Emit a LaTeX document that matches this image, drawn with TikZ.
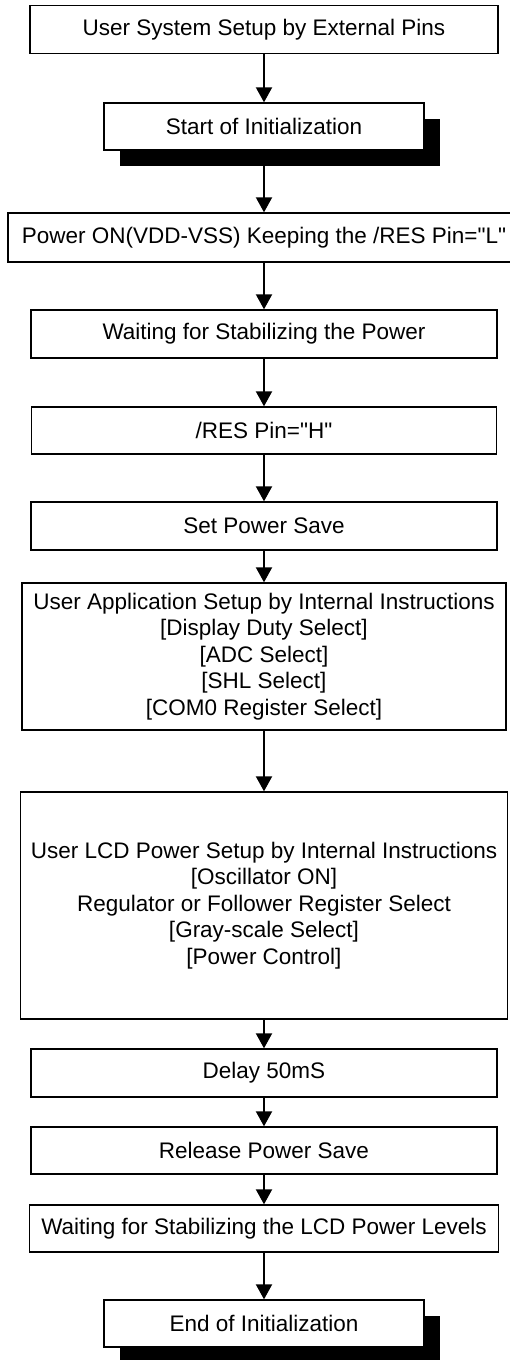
\documentclass[tikz,border=0pt]{standalone}
\usepackage{fontspec}
\setmainfont{Liberation Sans}
\usetikzlibrary{arrows.meta,shadows}

\begin{document}
\begin{tikzpicture}[
  stepbox/.style={rectangle, draw, line width=0.75pt, fill=white, minimum height=0.96cm, align=center, inner sep=0pt, font=\fontsize{12.8}{15}\selectfont},
  shadowed/.style={general shadow={fill=black, shadow xshift=0.32cm, shadow yshift=-0.32cm}},
  flow/.style={-{Triangle[length=3mm, width=3.2mm]}, line width=1.1pt},
]
  \useasboundingbox (0,0) rectangle (10.18,-27.2);

  \node[stepbox, minimum width=9.36cm] (extpins) at (5.28,-0.59) {User System Setup by External Pins};
  \node[stepbox, shadowed, minimum width=6.40cm, minimum height=0.94cm] (start) at (5.28,-2.53) {Start of Initialization};
  \node[stepbox, minimum width=10.24cm, minimum height=0.98cm] (poweron) at (5.28,-4.75) {Power ON(VDD-VSS) Keeping the /RES Pin=\textquotedbl L\textquotedbl};
  \node[stepbox, minimum width=9.32cm] (waitpwr) at (5.28,-6.68) {Waiting for Stabilizing the Power};
  \node[stepbox, minimum width=9.30cm, minimum height=0.94cm] (reshigh) at (5.28,-8.61) {/RES Pin=\textquotedbl H\textquotedbl};
  \node[stepbox, minimum width=9.32cm] (setsave) at (5.28,-10.52) {Set Power Save};
  \node[stepbox, minimum width=9.68cm, minimum height=2.94cm] (appsetup) at (5.28,-13.13)
    {User Application Setup by Internal Instructions\\{[}Display Duty Select]\\{[}ADC Select]\\{[}SHL Select]\\{[}COM0 Register Select]};
  \node[stepbox, minimum width=9.74cm, minimum height=4.54cm] (lcdsetup) at (5.28,-18.11)
    {User LCD Power Setup by Internal Instructions\\{[}Oscillator ON]\\Regulator or Follower Register Select\\{[}Gray-scale Select]\\{[}Power Control]};
  \node[stepbox, minimum width=9.32cm] (delay) at (5.28,-21.46) {Delay 50mS};
  \node[stepbox, minimum width=9.32cm, minimum height=0.94cm] (relsave) at (5.28,-23.01) {Release Power Save};
  \node[stepbox, minimum width=9.38cm, minimum height=0.94cm] (waitlcd) at (5.28,-24.57) {Waiting for Stabilizing the LCD Power Levels};
  \node[stepbox, shadowed, minimum width=6.40cm, minimum height=0.94cm] (finish) at (5.28,-26.47) {End of Initialization};

  \draw[flow] (extpins) -- (start);
  \draw[flow] (start) -- (poweron);
  \draw[flow] (poweron) -- (waitpwr);
  \draw[flow] (waitpwr) -- (reshigh);
  \draw[flow] (reshigh) -- (setsave);
  \draw[flow] (setsave) -- (appsetup);
  \draw[flow] (appsetup) -- (lcdsetup);
  \draw[flow] (lcdsetup) -- (delay);
  \draw[flow] (delay) -- (relsave);
  \draw[flow] (relsave) -- (waitlcd);
  \draw[flow] (waitlcd) -- (finish);
\end{tikzpicture}
\end{document}
